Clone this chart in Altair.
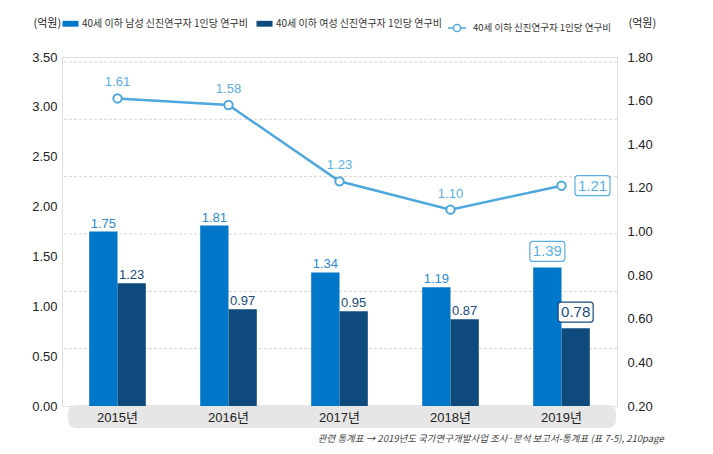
import altair as alt
import pandas as pd

years = ["2015년", "2016년", "2017년", "2018년", "2019년"]
male = [1.75, 1.81, 1.34, 1.19, 1.39]
female = [1.23, 0.97, 0.95, 0.87, 0.78]
total = [1.61, 1.58, 1.23, 1.10, 1.21]
male_name = "40세 이하 남성 신진연구자 1인당 연구비"
female_name = "40세 이하 여성 신진연구자 1인당 연구비"
total_name = "40세 이하 신진연구자 1인당 연구비"
left_ticks = [0.0, 0.5, 1.0, 1.5, 2.0, 2.5, 3.0, 3.5]
right_ticks = [0.2, 0.4, 0.6, 0.8, 1.0, 1.2, 1.4, 1.6, 1.8]
grid_vals = [0.575, 1.15, 1.725, 2.3, 2.875, 3.45]
highlight_year = "2019년"
source_note = "관련 통계표 → 2019년도 국가연구개발사업 조사·분석 보고서-통계표 (표 7-5), 210page"

bar_df = pd.DataFrame({
    "year": years * 2,
    "series": [male_name] * len(years) + [female_name] * len(years),
    "value": male + female,
})
bar_df["hl"] = bar_df["year"] == highlight_year
line_df = pd.DataFrame({"year": years, "series": [total_name] * len(years), "value": total})
line_df["hl"] = line_df["year"] == highlight_year
grid_df = pd.DataFrame({"value": grid_vals})
band_df = pd.DataFrame({"k": [0]})

W, H = 555, 349
NUM_FONT = "Liberation Sans Narrow, Liberation Sans, Noto Sans CJK KR, sans-serif"
KR_FONT = "Noto Sans CJK KR, sans-serif"
C_MALE = "#0077c8"
C_FEMALE = "#0e4a7c"
C_LINE = "#4ea7dd"
T_MALE = "#2f88cf"
T_FEMALE = "#1b4a7a"
T_LINE = "#5aafe2"

BOX = ("M-1.45,-1 L1.45,-1 Q1.75,-1 1.75,-0.7 L1.75,0.7 Q1.75,1 1.45,1 "
       "L-1.45,1 Q-1.75,1 -1.75,0.7 L-1.75,-0.7 Q-1.75,-1 -1.45,-1 Z")
RECT_SYM = "M-1.5,-0.55L1.5,-0.55L1.5,0.55L-1.5,0.55Z"
LINE_SYM = ("M-1,0L-0.4,0M0.4,0L1,0M-0.4,0C-0.4,-0.221 -0.221,-0.4 0,-0.4"
            "C0.221,-0.4 0.4,-0.221 0.4,0C0.4,0.221 0.221,0.4 0,0.4"
            "C-0.221,0.4 -0.4,0.221 -0.4,0Z")

x_axis = alt.Axis(title=None, domain=False, ticks=False, tickSize=0, zindex=2,
                  labelAngle=0, labelPadding=11, labelBaseline="middle",
                  labelFont=NUM_FONT, labelFontSize=13, labelColor="#222")
x_enc = alt.X("year:N", sort=years,
              scale=alt.Scale(paddingInner=0.49, paddingOuter=0.245), axis=x_axis)
x_plain = alt.X("year:N", sort=years, axis=x_axis)
xoff = alt.XOffset("series:N", sort=[male_name, female_name])

left_axis = alt.Axis(values=left_ticks, format=".2f", domain=False, ticks=False,
                     grid=False, labelPadding=5, labelFont=NUM_FONT,
                     labelFontSize=13, labelColor="#222",
                     title="(억원)", titleAngle=0, titleX=-29, titleY=-34,
                     titleAlign="left", titleBaseline="middle",
                     titleFont=KR_FONT, titleFontSize=11,
                     titleFontWeight="normal", titleColor="#222")
y_left = alt.Y("value:Q", scale=alt.Scale(domain=[0, 3.5], nice=False), axis=left_axis)
y_left_plain = alt.Y("value:Q", axis=left_axis)

band = alt.Chart(band_df).mark_rect(color="#e6e6e6", cornerRadius=8).encode(
    x=alt.value(6), x2=alt.value(W - 1), y=alt.value(H - 1), y2=alt.value(H + 22))

grid = alt.Chart(grid_df).mark_rule(color="#d4d4d4", strokeDash=[3, 2], strokeWidth=1).encode(
    y=y_left_plain)

bars = alt.Chart(bar_df).mark_bar().encode(
    x=x_enc, xOffset=xoff, y=y_left,
    color=alt.Color("series:N", sort=[male_name, female_name],
                    scale=alt.Scale(domain=[male_name, female_name], range=[C_MALE, C_FEMALE]),
                    legend=alt.Legend(orient="none", legendX=3, legendY=-39,
                                      direction="horizontal", title=None,
                                      symbolType=RECT_SYM, symbolSize=114,
                                      symbolStrokeWidth=0, labelFont=KR_FONT,
                                      labelFontSize=10, labelColor="#333", labelLimit=300,
                                      labelOffset=6, columnPadding=8)))

text_color = alt.condition(alt.datum.series == male_name, alt.value(T_MALE), alt.value(T_FEMALE))
bar_text = alt.Chart(bar_df).transform_filter("!datum.hl").mark_text(
    dy=-8, font=NUM_FONT, fontSize=13).encode(
    x=x_plain, xOffset=xoff, y=y_left_plain,
    text=alt.Text("value:Q", format=".2f"), color=text_color)

box_stroke = alt.condition(alt.datum.series == male_name, alt.value(T_LINE), alt.value(T_FEMALE))
bar_box = alt.Chart(bar_df).transform_filter("datum.hl").mark_point(
    shape=BOX, size=400, filled=True, fill="white", strokeWidth=1.2, yOffset=-16, opacity=1).encode(
    x=x_plain, xOffset=xoff, y=y_left_plain, stroke=box_stroke)
bar_box_text = alt.Chart(bar_df).transform_filter("datum.hl").mark_text(
    dy=-16, font=NUM_FONT, fontSize=15).encode(
    x=x_plain, xOffset=xoff, y=y_left_plain,
    text=alt.Text("value:Q", format=".2f"), color=box_stroke)

left = alt.layer(band, grid, bars, bar_text, bar_box, bar_box_text)

right_axis = alt.Axis(orient="right", values=right_ticks, format=".2f", domain=False,
                      ticks=False, grid=False, labelPadding=10, labelFont=NUM_FONT,
                      labelFontSize=13, labelColor="#222",
                      title="(억원)", titleAngle=0, titleX=11, titleY=-34,
                      titleAlign="left", titleBaseline="middle",
                      titleFont=KR_FONT, titleFontSize=11,
                      titleFontWeight="normal", titleColor="#222")
y_right = alt.Y("value:Q", scale=alt.Scale(domain=[0.2, 1.8], nice=False), axis=right_axis)
y_right_plain = alt.Y("value:Q", axis=right_axis)

line = alt.Chart(line_df).mark_line(strokeWidth=2.5).encode(
    x=x_plain, y=y_right,
    color=alt.Color("series:N",
                    scale=alt.Scale(domain=[total_name], range=[C_LINE]),
                    legend=alt.Legend(orient="none", legendX=385, legendY=-39,
                                      direction="horizontal", title=None,
                                      symbolType=LINE_SYM, symbolSize=324,
                                      symbolStrokeWidth=1.5, symbolFillColor="white",
                                      labelFont=KR_FONT, labelFontSize=9.5, labelLimit=300,
                                      labelColor="#333", labelOffset=6)))
points = alt.Chart(line_df).mark_point(
    shape="circle", filled=True, fill="white", stroke=C_LINE, strokeWidth=2,
    size=70, opacity=1).encode(x=x_plain, y=y_right_plain)
line_text = alt.Chart(line_df).transform_filter("!datum.hl").mark_text(
    dy=-16, font=NUM_FONT, fontSize=13, color=T_LINE).encode(
    x=x_plain, y=y_right_plain, text=alt.Text("value:Q", format=".2f"))
line_box = alt.Chart(line_df).transform_filter("datum.hl").mark_point(
    shape=BOX, size=400, filled=True, fill="white", stroke=T_LINE, strokeWidth=1.2,
    xOffset=31, opacity=1).encode(x=x_plain, y=y_right_plain)
line_box_text = alt.Chart(line_df).transform_filter("datum.hl").mark_text(
    dx=31, font=NUM_FONT, fontSize=15, color=T_LINE).encode(
    x=x_plain, y=y_right_plain, text=alt.Text("value:Q", format=".2f"))

right = alt.layer(line, points, line_text, line_box, line_box_text)

chart = alt.layer(left, right).resolve_scale(y="independent", color="independent").properties(
    width=W, height=H,
    autosize=alt.AutoSizeParams(type="none"),
    padding={"left": 62, "top": 57, "right": 713 - 62 - W, "bottom": 454 - 57 - H},
    title=alt.TitleParams(source_note, orient="bottom", anchor="end", frame="bounds",
                          font=KR_FONT, fontSize=9.5, fontStyle="italic",
                          fontWeight="normal", color="#444", offset=6, dx=8),
).configure_view(stroke=None).configure(background="white")

chart.save("out.html", embed_options={"renderer": "svg", "actions": False})
